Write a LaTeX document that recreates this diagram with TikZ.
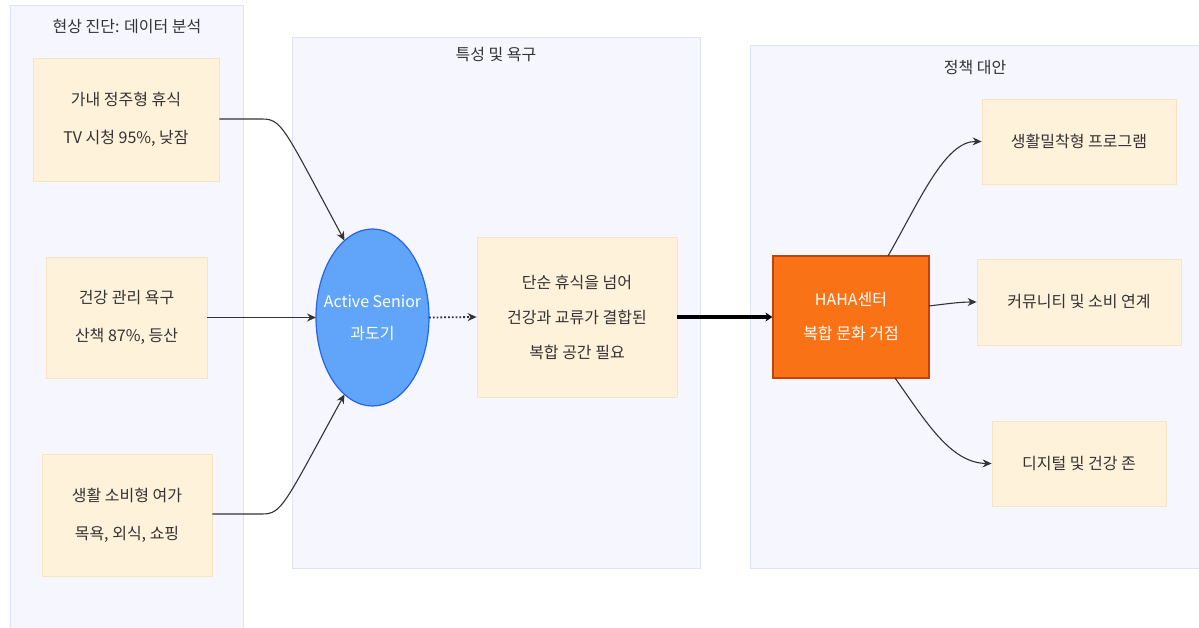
\documentclass[tikz,border=0pt]{standalone}
\usepackage{fontspec}
\setmainfont{Noto Sans CJK KR}
\usetikzlibrary{arrows.meta,shapes.geometric,calc}
\definecolor{clfill}{HTML}{F6F7FE}
\definecolor{cldraw}{HTML}{DCE3F7}
\definecolor{ndfill}{HTML}{FFF2DB}
\definecolor{nddraw}{HTML}{F6E4C2}
\definecolor{txt}{HTML}{333333}
\definecolor{blfill}{HTML}{60A5FA}
\definecolor{bldraw}{HTML}{2563EB}
\definecolor{orfill}{HTML}{F97316}
\definecolor{ordraw}{HTML}{C2410C}
\definecolor{edge}{HTML}{333333}
\tikzset{
  cluster/.style={draw=cldraw,fill=clfill,line width=0.8pt},
  cltitle/.style={text=txt,font=\fontsize{16}{19}\selectfont},
  box/.style={draw=nddraw,fill=ndfill,line width=0.8pt,text=txt,align=center,inner sep=0pt},
  conn/.style={draw=edge,line width=1.1pt,-{Stealth[length=9pt,width=8pt]}},
}
\begin{document}
\begin{tikzpicture}[x=1pt,y=-1pt]
\useasboundingbox (0,0) rectangle (1199,628);
\fill[white] (0,0) rectangle (1199,628);
% clusters
\draw[cluster] (10,5) rectangle (243,640);
\draw[cluster] (292,37) rectangle (700,568);
\draw[cluster] (750,45) rectangle (1205,568);
\node[cltitle] (t1) at (127,27) {현상 진단: 데이터 분석};
\node[cltitle] (t2) at (496,55) {특성 및 욕구};
\node[cltitle] (t3) at (975,68) {정책 대안};
% left nodes
\node[box,minimum width=186pt,minimum height=123pt,font=\fontsize{16}{38}\selectfont] (a1) at (126,119.5) {가내 정주형 휴식\\TV 시청 95\%, 낮잠};
\node[box,minimum width=161pt,minimum height=121pt,font=\fontsize{16}{38}\selectfont] (a2) at (126.5,317.5) {건강 관리 욕구\\산책 87\%, 등산};
\node[box,minimum width=170pt,minimum height=122pt,font=\fontsize{16}{38}\selectfont] (a3) at (127,515) {생활 소비형 여가\\목욕, 외식, 쇼핑};
% circle
\node[ellipse,draw=bldraw,fill=blfill,line width=1.2pt,minimum width=113pt,minimum height=177pt,inner sep=0pt,outer sep=0pt] (ci) at (372.5,317.5) {};
\node[align=center,text=white,inner sep=0pt,font=\fontsize{16}{32}\selectfont] (cit) at (ci.center) {Active Senior\\과도기};
% middle box
\node[box,minimum width=200pt,minimum height=160pt,font=\fontsize{16}{35}\selectfont] (b) at (577,317) {단순 휴식을 넘어\\건강과 교류가 결합된\\복합 공간 필요};
% HAHA
\node[draw=ordraw,fill=orfill,line width=1.2pt,minimum width=156pt,minimum height=122pt,inner sep=0pt,align=center,text=white,font=\fontsize{16}{34}\selectfont] (hh) at (851,317) {HAHA센터\\복합 문화 거점};
% right nodes
\node[box,minimum width=194pt,minimum height=85pt,font=\fontsize{16}{19}\selectfont] (c1) at (1079,141.5) {생활밀착형 프로그램};
\node[box,minimum width=204pt,minimum height=86pt,font=\fontsize{16}{19}\selectfont] (c2) at (1079,302) {커뮤니티 및 소비 연계};
\node[box,minimum width=174pt,minimum height=85pt,font=\fontsize{16}{19}\selectfont] (c3) at (1079,463.5) {디지털 및 건강 존};
% connectors
\coordinate (k1) at (262,119);
\coordinate (k3) at (262,514);
\draw[conn] (a1.east |- k1) -- (k1) .. controls (282,119) and (284,128) .. (ci.110);
\draw[conn] (a2.east) -- (ci.west);
\draw[conn] (a3.east |- k3) -- (k3) .. controls (282,514) and (284,505) .. (ci.250);
\draw[draw=edge,line width=1.8pt,dotted,-{Stealth[length=9pt,width=8pt]}] (ci.east) -- (b.west);
\draw[draw=black,line width=3.5pt,-{Stealth[length=7pt,width=9pt]}] (b.east) -- (hh.west);
\coordinate (h1) at (888,256);
\coordinate (h2) at (929,306);
\coordinate (h3) at (895,378);
\draw[conn] (h1) .. controls (920,200) and (945,141) .. (c1.west);
\draw[conn] (h2) .. controls (945,304) and (960,302) .. (c2.west);
\draw[conn] (h3) .. controls (925,420) and (950,463) .. (c3.west);
\end{tikzpicture}
\end{document}
